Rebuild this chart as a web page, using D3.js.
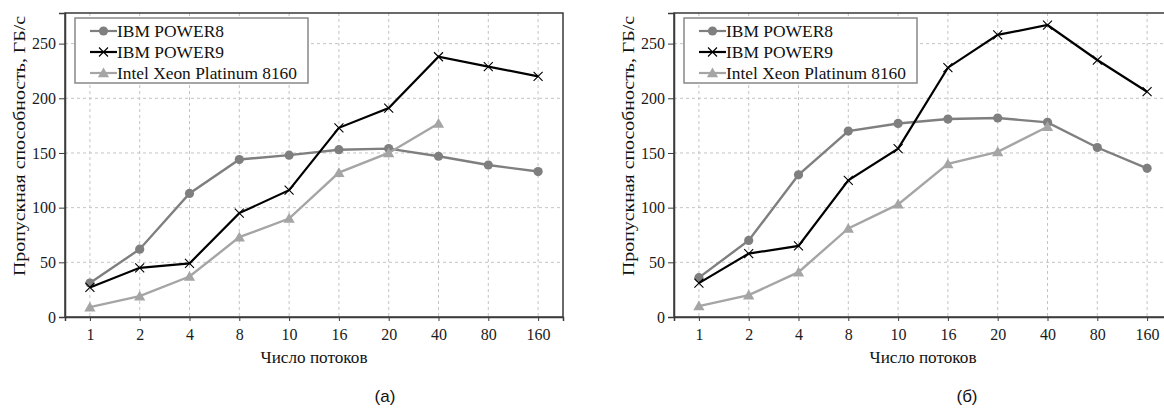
<!DOCTYPE html>
<html>
<head>
<meta charset="utf-8">
<script src="https://d3js.org/d3.v7.min.js"></script>
<style>
  body { margin: 0; background: #fff; }
  svg text { font-family: "Liberation Serif", "Times New Roman", serif; }
  svg text.caption { font-family: "Liberation Sans", Arial, sans-serif; }
</style>
</head>
<body>
<script>
// threads on x axis
const threads = ["1", "2", "4", "8", "10", "16", "20", "40", "80", "160"];
const yTicks = [0, 50, 100, 150, 200, 250];

// (a)
const power8A = [31, 62, 113, 144, 148, 153, 154, 147, 139, 133];
const power9A = [27, 45, 49, 95, 116, 173, 191, 238, 229, 220];
const intelA  = [9, 19, 37, 73, 90, 132, 150, 177];

// (б)
const power8B = [36, 70, 130, 170, 177, 181, 182, 178, 155, 136];
const power9B = [31, 58, 65, 125, 154, 228, 258, 267, 235, 206];
const intelB  = [10, 20, 41, 81, 103, 140, 151, 174];

const seriesNames = ["IBM POWER8", "IBM POWER9", "Intel Xeon Platinum 8160"];
const seriesColors = ["#7f7f7f", "#000000", "#a5a5a5"];
const seriesMarks = ["circle", "cross", "triangle"];

const W = 1164, H = 412;
const svg = d3.select("body").append("svg")
  .attr("width", W).attr("height", H);

function marker(g, kind, x, y, color) {
  if (kind === "circle") {
    g.append("circle").attr("cx", x).attr("cy", y).attr("r", 4.6).attr("fill", color);
  } else if (kind === "triangle") {
    g.append("path").attr("d", d3.symbol(d3.symbolTriangle, 55)())
      .attr("transform", `translate(${x},${y + 1})`).attr("fill", color);
  } else {
    const s = 4.5;
    g.append("path")
      .attr("d", `M${x - s},${y - s}L${x + s},${y + s}M${x - s},${y + s}L${x + s},${y - s}`)
      .attr("stroke", color).attr("stroke-width", 1.1).attr("fill", "none");
  }
}

function drawChart(left, data, caption, captionX) {
  const top = 13, bottom = 317, width = 498;
  const x = d3.scalePoint().domain(threads).range([left, left + width]).padding(0.5);
  const y = d3.scaleLinear().domain([0, 278]).range([bottom, top]);
  const g = svg.append("g");

  // grid
  g.append("g").selectAll("line").data(threads).join("line")
    .attr("x1", d => x(d)).attr("x2", d => x(d))
    .attr("y1", top).attr("y2", bottom)
    .attr("stroke", "#c4c4c4").attr("stroke-dasharray", "3,3");
  g.append("g").selectAll("line").data(yTicks.slice(1)).join("line")
    .attr("x1", left).attr("x2", left + width)
    .attr("y1", d => y(d)).attr("y2", d => y(d))
    .attr("stroke", "#c4c4c4").attr("stroke-dasharray", "3,3");

  // frame
  g.append("rect").attr("x", left).attr("y", top)
    .attr("width", width).attr("height", bottom - top)
    .attr("fill", "none").attr("stroke", "#3a3a3a").attr("stroke-width", 1.5);

  // axes
  const xAxis = g.append("g").attr("transform", `translate(0,${bottom})`)
    .call(d3.axisBottom(x).tickSize(4).tickPadding(8));
  const yAxis = g.append("g").attr("transform", `translate(${left},0)`)
    .call(d3.axisLeft(y).tickValues(yTicks).tickSize(6).tickPadding(3));
  [xAxis, yAxis].forEach(a => {
    a.attr("font-family", null);
    a.select(".domain").attr("stroke", "#3a3a3a").attr("stroke-width", 1.5);
    a.selectAll(".tick line").attr("stroke", "#3a3a3a");
    a.selectAll("text").attr("font-size", 16).attr("fill", "#1a1a1a");
  });

  // series
  data.forEach((vals, i) => {
    const pts = vals.map((v, j) => [x(threads[j]), y(v)]);
    g.append("path").attr("d", d3.line()(pts))
      .attr("fill", "none").attr("stroke", seriesColors[i])
      .attr("stroke-width", i === 1 ? 2.2 : 2.4);
    pts.forEach(p => marker(g, seriesMarks[i], p[0], p[1], seriesColors[i]));
  });

  // legend
  const lg = g.append("g").attr("transform", `translate(${left + 10},18)`);
  lg.append("rect").attr("width", 233).attr("height", 65)
    .attr("fill", "#fff").attr("stroke", "#888").attr("stroke-width", 1.5);
  seriesNames.forEach((name, i) => {
    const cy = 13 + i * 21;
    lg.append("line").attr("x1", 15).attr("x2", 42).attr("y1", cy).attr("y2", cy)
      .attr("stroke", seriesColors[i]).attr("stroke-width", 2.2);
    marker(lg, seriesMarks[i], 28.5, cy, seriesColors[i]);
    lg.append("text").attr("x", 42).attr("y", cy + 6)
      .attr("font-size", 17.5).attr("fill", "#111")
      .attr("textLength", i === 2 ? 180 : 107).attr("lengthAdjust", "spacingAndGlyphs")
      .text(name);
  });

  // axis titles
  g.append("text").attr("x", left + width / 2).attr("y", 363)
    .attr("text-anchor", "middle").attr("font-size", 17).attr("fill", "#111")
    .attr("textLength", 107).attr("lengthAdjust", "spacingAndGlyphs")
    .text("Число потоков");
  g.append("text")
    .attr("transform", `translate(${left - 40},146) rotate(-90)`)
    .attr("text-anchor", "middle").attr("font-size", 17).attr("fill", "#111")
    .attr("textLength", 260).attr("lengthAdjust", "spacingAndGlyphs")
    .text("Пропускная способность, ГБ/с");

  svg.append("text").attr("class", "caption").attr("x", captionX).attr("y", 402)
    .attr("text-anchor", "middle").attr("font-size", 17).attr("fill", "#111")
    .text(caption);
}

drawChart(65, [power8A, power9A, intelA], "(a)", 385);
drawChart(674, [power8B, power9B, intelB], "(б)", 967);
</script>
</body>
</html>
